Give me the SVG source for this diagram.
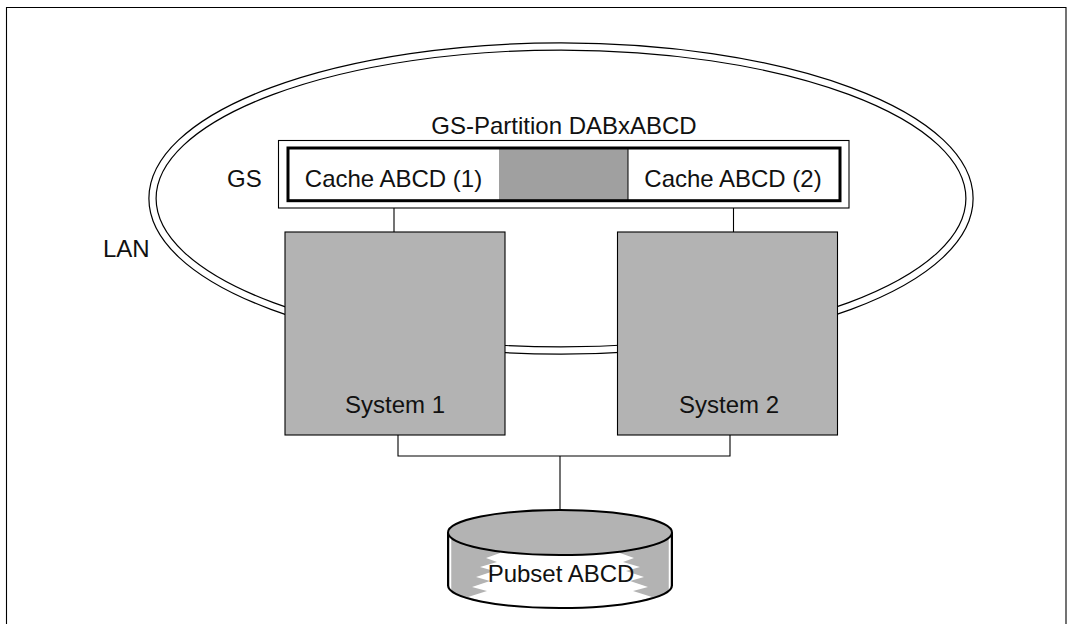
<svg xmlns="http://www.w3.org/2000/svg" width="1069" height="624" viewBox="0 0 1069 624">
<style>
text{font-family:"Liberation Sans",Arial,sans-serif;font-size:24px;fill:#111}
.ln{fill:none;stroke:#000;stroke-width:1.1}
.sys{fill:#b3b3b3;stroke:#000;stroke-width:1.1}
</style>
<defs>
<clipPath id="bodyclip"><path d="M448,532.5 L448,585.5 A112,22.5 0 0 0 672,585.5 L672,532.5 Z"/></clipPath>
</defs>
<rect width="1069" height="624" fill="#fff"/>
<g id="frame"><path class="ln" d="M6.5,624 V7.5 H1066 V624"/></g>
<g id="lan">
<ellipse cx="561" cy="198.5" rx="408.5" ry="152" fill="none" stroke="#000" stroke-width="8.4"/>
<ellipse cx="561" cy="198.5" rx="408.5" ry="152" fill="none" stroke="#fff" stroke-width="6"/>
<text x="103" y="257">LAN</text>
</g>
<g id="gs">
<text x="564" y="134" text-anchor="middle">GS-Partition DABxABCD</text>
<text x="227" y="187">GS</text>
<rect x="278.5" y="140.5" width="570.5" height="67.5" fill="#fff" stroke="#000" stroke-width="1.1"/>
<rect x="499" y="148" width="129" height="52.7" fill="#a0a0a0"/>
<line x1="628" y1="148" x2="628" y2="200.7" stroke="#000" stroke-width="1"/>
<rect x="288" y="148" width="552" height="52.7" fill="none" stroke="#000" stroke-width="3"/>
<text x="393.5" y="187" text-anchor="middle">Cache ABCD (1)</text>
<text x="733" y="187" text-anchor="middle">Cache ABCD (2)</text>
</g>
<g id="connectors">
<path class="ln" d="M394,208 V232 M733.5,208 V232 M398,435 V456 H730 V435 M560,456 V510"/>
</g>
<g id="system1">
<rect class="sys" x="285" y="232" width="220" height="203"/>
<text x="395" y="413" text-anchor="middle">System 1</text>
</g>
<g id="system2">
<rect class="sys" x="617.5" y="232" width="220" height="203"/>
<text x="729" y="413" text-anchor="middle">System 2</text>
</g>
<g id="pubset">
<path d="M448,532.5 L448,585.5 A112,22.5 0 0 0 672,585.5 L672,532.5 Z" fill="#b3b3b3"/>
<polygon clip-path="url(#bodyclip)" fill="#fff" points="500,540 500,553 486,558 497,562 480,567 494,571 476,577 490,581 472,587 487,591 468,597 482,601 462,612 658,612 638,601 652,597 633,591 648,587 630,581 644,577 626,571 640,567 623,562 634,558 620,553 620,540"/>
<path clip-path="url(#bodyclip)" d="M450.5,536 V590 M669.5,536 V590" stroke="#fff" stroke-width="1.5" fill="none"/>
<path d="M448,532.5 L448,585.5 A112,22.5 0 0 0 672,585.5 L672,532.5" fill="none" stroke="#000" stroke-width="2"/>
<ellipse cx="560" cy="532.5" rx="112" ry="22.5" fill="#b3b3b3" stroke="#000" stroke-width="2"/>
<text x="561" y="582" text-anchor="middle">Pubset ABCD</text>
</g>
</svg>
